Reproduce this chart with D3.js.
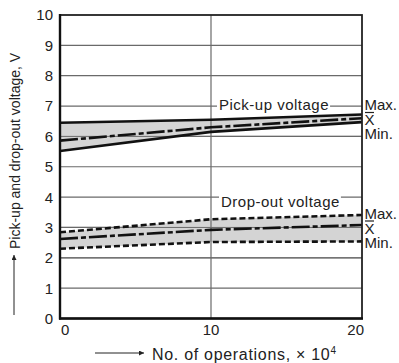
<!DOCTYPE html>
<html><head><meta charset="utf-8">
<script src="https://cdn.jsdelivr.net/npm/d3@7"></script>
<style>body{margin:0;background:#fff}svg{display:block;font-family:"Liberation Sans",Arial,sans-serif}</style>
</head><body><svg id="c" width="399" height="363"></svg>
<script>
const xVals = [0, 10, 20];
const pickMax = [6.45, 6.55, 6.72];
const pickX = [5.86, 6.3, 6.6];
const pickMin = [5.52, 6.15, 6.47];
const dropMax = [2.84, 3.27, 3.41];
const dropX = [2.62, 2.92, 3.08];
const dropMin = [2.3, 2.52, 2.54];
const yTicks = [0,1,2,3,4,5,6,7,8,9,10];
const xTicks = [0,10,20];
const yTitle = "Pick-up and drop-out voltage, V";
const xTitle = "No. of operations, × 10";

const svg = d3.select("#c");
const L=60,R=362,T=15,B=318.5;
const x = d3.scaleLinear().domain([0,20]).range([L,R]);
const y = d3.scaleLinear().domain([0,10]).range([B,T]);
const grey = "#6a6a6a";

// grid
svg.append("g").selectAll("line").data(yTicks.filter(d=>d>0&&d<10)).join("line")
  .attr("x1",L).attr("x2",R).attr("y1",d=>y(d)).attr("y2",d=>y(d))
  .attr("stroke",grey).attr("stroke-width",1.2);

function band(mx,mn){
  const d = xVals.map((v,i)=>({x:v,hi:mx[i],lo:mn[i]}));
  svg.append("path").datum(d).attr("fill","#d4d4d4").attr("stroke","none")
    .attr("d",d3.area().x(p=>x(p.x)).y0(p=>y(p.lo)).y1(p=>y(p.hi)));
}
function line(vals,dash,w){
  const d = xVals.map((v,i)=>({x:v,y:vals[i]}));
  svg.append("path").datum(d).attr("fill","none").attr("stroke","#111")
    .attr("stroke-width",w).attr("stroke-dasharray",dash)
    .attr("d",d3.line().x(p=>x(p.x)).y(p=>y(p.y)));
}
band(pickMax,pickMin);
band(dropMax,dropMin);
svg.append("g").selectAll("line").data([2,3,6]).join("line")
  .attr("x1",L).attr("x2",R).attr("y1",d=>y(d)).attr("y2",d=>y(d))
  .attr("stroke",grey).attr("stroke-width",1);
svg.append("line").attr("x1",x(10)).attr("x2",x(10)).attr("y1",T).attr("y2",B)
  .attr("stroke",grey).attr("stroke-width",1.2);

line(pickMax,null,2.6);
line(pickMin,null,2.6);
line(pickX,"18,3,5,3",2.6);
line(dropMax,"6,3",2.6);
line(dropMin,"6,3",2.6);
line(dropX,"18,3,5,3",2.6);

// frame
svg.append("rect").attr("x",L).attr("y",T).attr("width",R-L).attr("height",B-T)
  .attr("fill","none").attr("stroke","#222").attr("stroke-width",1.8);
svg.append("line").attr("x1",L).attr("x2",L).attr("y1",T-1).attr("y2",B+1).attr("stroke","#111").attr("stroke-width",2.4);
svg.append("line").attr("x1",L-1).attr("x2",R+1).attr("y1",B).attr("y2",B).attr("stroke","#111").attr("stroke-width",2.4);

// y tick labels
svg.append("g").selectAll("text").data(yTicks).join("text")
  .attr("x",53).attr("y",d=>y(d)).attr("dy","0.36em").attr("text-anchor","end")
  .attr("font-size",15).attr("fill","#222").text(d=>d);
// x tick labels
svg.append("g").selectAll("text").data(xTicks).join("text")
  .attr("x",d=>d===0?x(d)+1:d===20?x(d)+2:x(d)).attr("y",334.5)
  .attr("text-anchor",d=>d===0?"start":d===20?"end":"middle")
  .attr("font-size",15).attr("fill","#222").text(d=>d);

// annotation labels with white background
function label(txt,x0,cy){
  const t = svg.append("text").attr("x",x0).attr("y",cy)
    .attr("font-size",15).attr("letter-spacing","0.5px").attr("fill","#222").text(txt);
  const bb = t.node().getBBox();
  svg.insert("rect", () => t.node()).attr("x",bb.x-2).attr("y",bb.y+2).attr("width",bb.width+3).attr("height",bb.height-4).attr("fill","#fff");
}
label("Pick-up voltage",219,110);
label("Drop-out voltage",221,207);

// right side labels
function side(yMax,yX,yMin){
  svg.append("text").attr("x",364.5).attr("y",yMax).attr("font-size",15).attr("fill","#222").text("Max.");
  const xt = svg.append("text").attr("x",364.5).attr("y",yX).attr("font-size",15).attr("fill","#222").text("X");
  const bb = xt.node().getBBox();
  svg.append("line").attr("x1",bb.x+0.5).attr("x2",bb.x+bb.width-0.5).attr("y1",yX-12.5).attr("y2",yX-12.5).attr("stroke","#222").attr("stroke-width",1.2);
  svg.append("text").attr("x",364.5).attr("y",yMin).attr("font-size",15).attr("fill","#222").text("Min.");
}
side(110,125,138.5);
side(219,233.5,247.5);

// axis titles with arrows
svg.append("defs").append("marker").attr("id","ah").attr("viewBox","0 0 10 10").attr("refX",10).attr("refY",5)
  .attr("markerWidth",7).attr("markerHeight",5).attr("markerUnits","userSpaceOnUse").attr("orient","auto")
  .append("path").attr("d","M0,0L10,5L0,10z").attr("fill","#222");
svg.append("text").attr("transform","translate(19.5,249) rotate(-90)").attr("font-size",14)
  .attr("fill","#222").text(yTitle);
svg.append("line").attr("x1",14).attr("x2",14).attr("y1",315).attr("y2",255).attr("stroke","#222").attr("stroke-width",1).attr("marker-end","url(#ah)");
const xt = svg.append("text").attr("x",152).attr("y",359.5).attr("font-size",16)
  .attr("letter-spacing","0.7px").attr("fill","#222").text(xTitle);
xt.append("tspan").attr("font-size",10).attr("dy",-6).text("4");
svg.append("line").attr("x1",95).attr("x2",144).attr("y1",353).attr("y2",353).attr("stroke","#222").attr("stroke-width",1).attr("marker-end","url(#ah)");
</script></body></html>
